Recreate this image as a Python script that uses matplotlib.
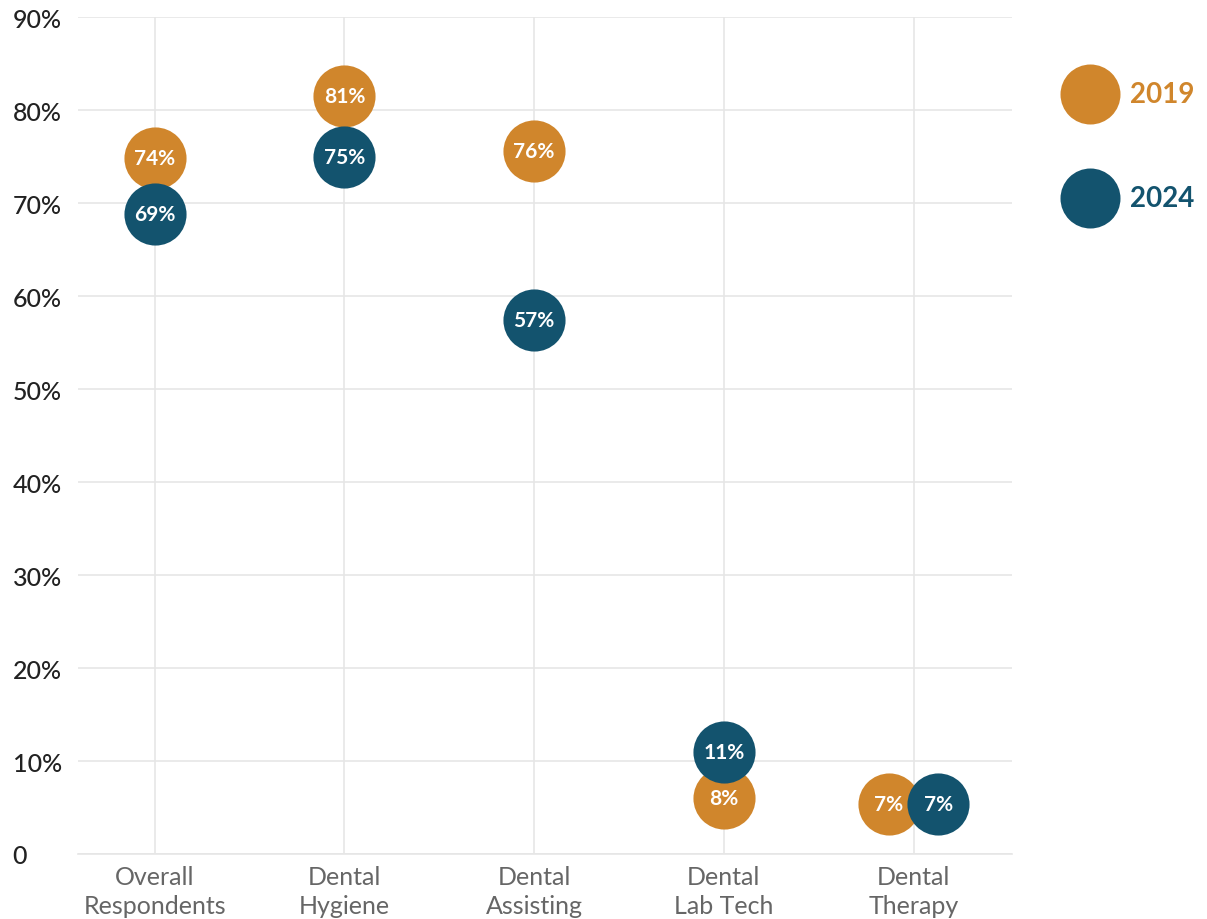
import matplotlib.pyplot as plt

plt.rcParams['font.family'] = ['Lato', 'DejaVu Sans']

categorias = ["Overall\nRespondents", "Dental\nHygiene", "Dental\nAssisting",
              "Dental\nLab Tech", "Dental\nTherapy"]
series = ["2019", "2024"]
valores_2019 = [74.9, 81.5, 75.6, 6.0, 5.4]
valores_2024 = [68.8, 75.0, 57.4, 11.0, 5.4]
etiquetas_2019 = ["74%", "81%", "76%", "8%", "7%"]
etiquetas_2024 = ["69%", "75%", "57%", "11%", "7%"]
yticks = [0, 10, 20, 30, 40, 50, 60, 70, 80, 90]
ytick_labels = ["0"] + [f"{v}%" for v in yticks[1:]]

naranja = "#D0862C"
azul = "#13536E"

fig = plt.figure(figsize=(12.07, 9.2), dpi=100)
ax = fig.add_axes([0.0646, 0.0707, 0.774, 0.9093])

x = list(range(len(categorias)))
# desplazamiento lateral para el ultimo grupo (los puntos se solapan)
dx_2019 = [0, 0, 0, 0, -0.13]
dx_2024 = [0, 0, 0, 0, 0.13]

s = 2000
for vals, labs, dx, color in [(valores_2019, etiquetas_2019, dx_2019, naranja),
                              (valores_2024, etiquetas_2024, dx_2024, azul)]:
    xs = [xi + d for xi, d in zip(x, dx)]
    ax.scatter(xs, vals, s=s, color=color, zorder=3, linewidths=0)
    for xi, v, t in zip(xs, vals, labs):
        ax.text(xi, v, t, ha="center", va="center", color="white",
                fontsize=15, fontweight="bold", zorder=4)

ax.set_xlim(-0.405, 4.52)
ax.set_ylim(0, 90)
ax.set_xticks(x)
ax.set_xticklabels(categorias, fontsize=18, color="#666666", linespacing=1.3)
ax.set_yticks(yticks)
ax.set_yticklabels(ytick_labels, fontsize=18, color="#222222", ha="left",
                   fontweight="medium")
ax.tick_params(axis="both", length=0)
ax.tick_params(axis="y", pad=47)
ax.tick_params(axis="x", pad=8)
ax.grid(True, color="#e6e6e6", linewidth=1.2, zorder=0)
ax.set_axisbelow(True)
for sp in ["top", "right", "left"]:
    ax.spines[sp].set_visible(False)
ax.spines["bottom"].set_color("#e6e6e6")
ax.spines["bottom"].set_linewidth(1.2)

# leyenda manual
for yy, nombre, color in [(0.897, series[0], naranja), (0.784, series[1], azul)]:
    ax.scatter([1090 / 1207], [yy], s=1866, color=color, linewidths=0,
               transform=fig.transFigure, clip_on=False)
    fig.text(0.936, yy, nombre, fontsize=20, fontweight="bold", color=color,
             ha="left", va="center")

fig.savefig("out.png", dpi=100)
